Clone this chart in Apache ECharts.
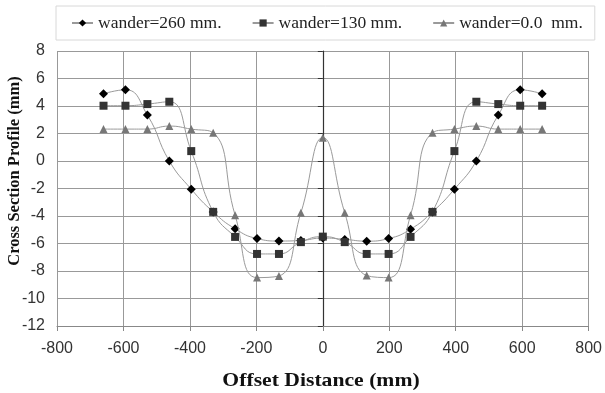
<!DOCTYPE html>
<html>
<head>
<meta charset="utf-8">
<script src="https://cdn.jsdelivr.net/npm/echarts@6/dist/echarts.min.js"></script>
<style>html,body{margin:0;padding:0;background:#fff;}#c{width:605px;height:393px;}</style>
</head>
<body>
<div id="c"></div>
<script>
const xValues = [-660,-594,-528,-462,-396,-330,-264,-198,-132,-66,0,66,132,198,264,330,396,462,528,594,660];
const wander260 = [4.89,5.18,3.34,0.0,-2.05,-3.7,-4.93,-5.64,-5.82,-5.78,-5.6,-5.7,-5.83,-5.64,-4.96,-3.7,-2.05,0.0,3.34,5.18,4.89];
const wander130 = [4.02,4.02,4.14,4.31,0.72,-3.70,-5.52,-6.76,-6.76,-5.9,-5.5,-5.9,-6.76,-6.76,-5.52,-3.70,0.72,4.31,4.14,4.02,4.02];
const wander0 = [2.32,2.32,2.32,2.54,2.32,2.05,-3.94,-8.48,-8.36,-3.77,1.7,-3.77,-8.33,-8.48,-3.94,2.05,2.32,2.54,2.32,2.32,2.32];
const seriesNames = ['wander=260 mm.', 'wander=130 mm.', 'wander=0.0  mm.'];
const xTitle = 'Offset Distance (mm)';
const yTitle = 'Cross Section Profile (mm)';

const pair = (ys) => xValues.map((x, i) => [x, ys[i]]);
const chart = echarts.init(document.getElementById('c'), null, {renderer: 'canvas'});
const lineStyle = {color: '#9a9a9a', width: 1};
chart.setOption({
  animation: false,
  backgroundColor: '#fff',
  grid: {left: 57, right: 16, top: 51, bottom: 67, containLabel: false},
  legend: {
    left: 56, top: 6,
    padding: [8, 12, 8, 15],
    itemGap: 30,
    itemWidth: 21, itemHeight: 9,
    borderColor: '#d8d8d8', borderWidth: 1,
    backgroundColor: '#fff',
    textStyle: {fontFamily: 'Liberation Serif', fontSize: 17.5, color: '#222'},
    data: seriesNames
  },
  xAxis: {
    type: 'value', min: -800, max: 800, interval: 200,
    axisLine: {onZero: false, lineStyle: {color: '#888', width: 1}},
    axisTick: {show: true, length: 5, lineStyle: {color: '#888'}},
    axisLabel: {fontFamily: 'Liberation Sans', fontSize: 16, color: '#333', margin: 15},
    splitLine: {show: true, lineStyle: {color: '#999', width: 1}}
  },
  yAxis: {
    type: 'value', min: -12, max: 8, interval: 2,
    axisLine: {onZero: true, lineStyle: {color: '#333', width: 1.2}},
    axisTick: {show: true, length: 5, lineStyle: {color: '#333'}},
    axisLabel: {fontFamily: 'Liberation Sans', fontSize: 16, color: '#333', margin: 12},
    splitLine: {show: true, lineStyle: {color: '#999', width: 1}}
  },
  graphic: [{
    type: 'text', x: 15, y: 171, rotation: Math.PI / 2,
    style: {text: yTitle, font: 'bold 16.5px "Liberation Serif"', fill: '#111', textAlign: 'center', textVerticalAlign: 'middle'}
  }, {
    type: 'text', x: 321, y: 381, scaleX: 1.14,
    style: {text: xTitle, font: 'bold 19px "Liberation Serif"', fill: '#111', textAlign: 'center', textVerticalAlign: 'middle'}
  }],
  series: [
    {name: seriesNames[0], type: 'line', smooth: 0.5, data: pair(wander260), symbol: 'diamond', symbolSize: 9,
     itemStyle: {color: '#000'}, lineStyle: lineStyle, z: 3},
    {name: seriesNames[1], type: 'line', smooth: 0.5, data: pair(wander130), symbol: 'rect', symbolSize: 8,
     itemStyle: {color: '#333'}, lineStyle: lineStyle, z: 4},
    {name: seriesNames[2], type: 'line', smooth: 0.5, data: pair(wander0), symbol: 'triangle', symbolSize: 8,
     itemStyle: {color: '#777'}, lineStyle: lineStyle, z: 5}
  ]
});
</script>
</body>
</html>
